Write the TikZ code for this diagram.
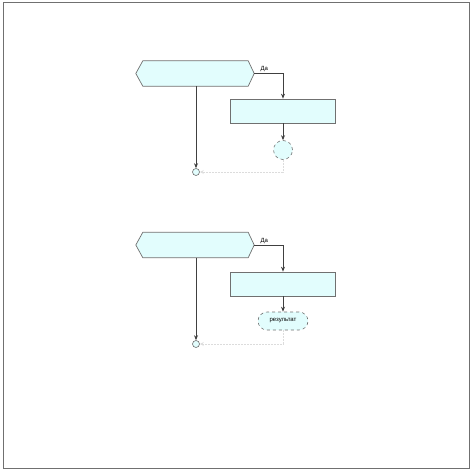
\documentclass[tikz,border=0pt]{standalone}
\usepackage{fontspec}
\setmainfont{Liberation Sans}
\usetikzlibrary{arrows.meta}
\definecolor{fillc}{HTML}{E2FDFD}
\definecolor{linec}{HTML}{707070}
\definecolor{lightc}{HTML}{DCDCDC}
\begin{document}
\begin{tikzpicture}[x=1pt,y=-1pt,
  frame/.style={draw=linec,line width=1pt},
  boxn/.style={draw=linec,fill=fillc,line width=0.7pt,minimum width=105pt,minimum height=24pt,inner sep=0pt},
  hexn/.style={minimum width=118pt,minimum height=25pt,inner sep=0pt},
  hexdraw/.style={draw=linec,fill=fillc,line width=0.7pt},
  endn/.style={draw=linec,fill=fillc,dashed,circle,minimum size=19pt,inner sep=0pt,line width=0.6pt},
  termn/.style={draw=linec,fill=fillc,dashed,rounded corners=9pt,minimum width=50pt,minimum height=18pt,inner sep=0pt,line width=0.6pt,font=\fontsize{6}{7}\selectfont},
  joinn/.style={draw=linec,fill=fillc,circle,minimum size=7pt,inner sep=0pt,line width=0.6pt},
  conn/.style={draw=black!75,line width=0.7pt,-{Stealth[length=5pt,width=4pt]}},
  back/.style={draw=lightc,line width=0.6pt,dash pattern=on 2pt off 1pt,-{Stealth[length=4pt,width=4pt,open]}},
  lbl/.style={font=\fontsize{6}{7}\selectfont,inner sep=1pt}]
\useasboundingbox (0,0) rectangle (473,471);
\draw[frame] (3,2) rectangle (469,468);
% group 1
\node[hexn] (h1) at (195,73.5) {};
\path[hexdraw] (h1.west) -- ([xshift=7pt]h1.north west) -- ([xshift=-6pt]h1.north east) -- (h1.east) -- ([xshift=-6pt]h1.south east) -- ([xshift=7pt]h1.south west) -- cycle;
\node[boxn] (b1) at (283,111) {};
\node[endn] (e1) at (283,150) {};
\node[joinn] (j1) at (196,172) {};
\draw[conn] (h1.east) -- (b1.north |- h1.east) node[lbl,above,pos=0.35] {Да} -- (b1.north);
\draw[conn] (b1.south) -- (e1.north);
\draw[conn] (j1 |- h1.south) -- (j1.north);
\draw[back] (e1.south) |- (j1.east);
% group 2
\node[hexn] (h2) at (195,245) {};
\path[hexdraw] (h2.west) -- ([xshift=7pt]h2.north west) -- ([xshift=-6pt]h2.north east) -- (h2.east) -- ([xshift=-6pt]h2.south east) -- ([xshift=7pt]h2.south west) -- cycle;
\node[boxn] (b2) at (283,284) {};
\node[termn] (t2) at (283,321) {результат};
\node[joinn] (j2) at (196,344) {};
\draw[conn] (h2.east) -- (b2.north |- h2.east) node[lbl,above,pos=0.35] {Да} -- (b2.north);
\draw[conn] (b2.south) -- (t2.north);
\draw[conn] (j2 |- h2.south) -- (j2.north);
\draw[back] (t2.south) |- (j2.east);
\end{tikzpicture}
\end{document}
